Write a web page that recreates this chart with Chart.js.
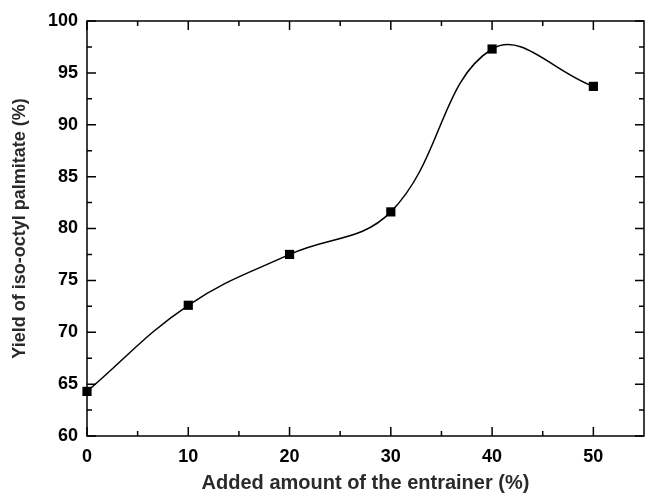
<!DOCTYPE html>
<html><head><meta charset="utf-8">
<script src="https://cdn.jsdelivr.net/npm/chart.js@4/dist/chart.umd.min.js"></script>
<style>html,body{margin:0;padding:0;background:#fff}</style>
</head><body>
<canvas id="c" width="645" height="495" style="width:645px;height:495px;display:block"></canvas>
<script>
const entrainerAmount = [0, 10, 20, 30, 40, 50];
const yieldValues = [64.3, 72.6, 77.5, 81.6, 97.3, 93.7];
const xTickValues = [0, 10, 20, 30, 40, 50];
const yTickValues = [60, 65, 70, 75, 80, 85, 90, 95, 100];
const xMinorTicks = [5, 15, 25, 35, 45];
const yMinorTicks = [62.5, 67.5, 72.5, 77.5, 82.5, 87.5, 92.5, 97.5];
const xTitle = 'Added amount of the entrainer (%)';
const yTitle = 'Yield of iso-octyl palmitate (%)';

const FONT = '"Liberation Sans", Arial, sans-serif';

const framePlugin = {
  id: 'frame',
  afterDatasetsDraw(chart) {
    const {ctx, chartArea: a, scales: {x, y}} = chart;
    ctx.save();
    ctx.strokeStyle = '#000';
    ctx.lineWidth = 1.5;
    ctx.strokeRect(a.left, a.top, a.right - a.left, a.bottom - a.top);
    ctx.beginPath();
    const tick = (vals, len, isX) => {
      vals.forEach(v => {
        if (isX) {
          const px = x.getPixelForValue(v);
          ctx.moveTo(px, a.bottom); ctx.lineTo(px, a.bottom - len);
          ctx.moveTo(px, a.top); ctx.lineTo(px, a.top + len);
        } else {
          const py = y.getPixelForValue(v);
          ctx.moveTo(a.left, py); ctx.lineTo(a.left + len, py);
          ctx.moveTo(a.right, py); ctx.lineTo(a.right - len, py);
        }
      });
    };
    tick(xTickValues, 9, true);
    tick(xMinorTicks, 5, true);
    tick(yTickValues, 9, false);
    tick(yMinorTicks, 5, false);
    ctx.stroke();
    ctx.restore();
  }
};

new Chart(document.getElementById('c'), {
  type: 'scatter',
  data: {
    datasets: [{
      data: entrainerAmount.map((v, i) => ({x: v, y: yieldValues[i]})),
      showLine: true,
      borderColor: '#000',
      borderWidth: 1.5,
      tension: 0.4,
      backgroundColor: '#000',
      pointStyle: 'rect',
      pointRadius: 6.5,
      pointBorderWidth: 0,
      pointHoverRadius: 6.5,
      clip: false
    }]
  },
  options: {
    responsive: false,
    animation: false,
    events: [],
    layout: {autoPadding: false, padding: {top: 21, right: 1, left: 0, bottom: 0}},
    plugins: {legend: {display: false}, tooltip: {enabled: false}},
    scales: {
      x: {
        type: 'linear', min: 0, max: 55,
        afterBuildTicks: s => { s.ticks = xTickValues.map(v => ({value: v})); },
        afterFit: s => { s.height = 59; s.paddingLeft = 0; s.paddingRight = 0; },
        grid: {display: false, drawTicks: false},
        border: {display: false},
        ticks: {color: '#000', font: {family: FONT, size: 18, weight: 'bold'}, padding: 10, maxRotation: 0},
        title: {display: true, text: xTitle, color: '#2a2a2a', font: {family: FONT, size: 20, weight: 'bold'}, padding: {top: 5, bottom: 0}}
      },
      y: {
        type: 'linear', min: 60, max: 100,
        afterBuildTicks: s => { s.ticks = yTickValues.map(v => ({value: v})); },
        afterFit: s => { s.width = 87; s.paddingTop = 0; s.paddingBottom = 0; },
        grid: {display: false, drawTicks: false},
        border: {display: false},
        ticks: {color: '#000', font: {family: FONT, size: 18, weight: 'bold'}, padding: 9},
        title: {display: true, text: yTitle, color: '#2a2a2a', font: {family: FONT, size: 18, weight: 'bold'}, padding: {top: 9, bottom: 0}}
      }
    }
  },
  plugins: [framePlugin]
});
</script>
</body></html>
